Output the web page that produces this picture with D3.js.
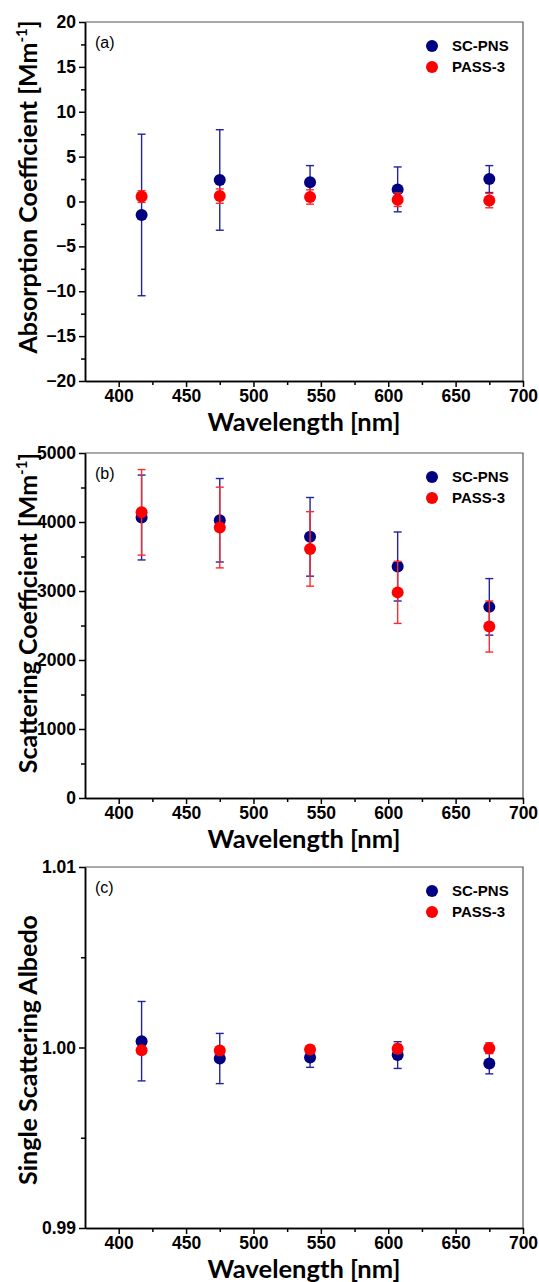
<!DOCTYPE html>
<html>
<head>
<meta charset="utf-8">
<script src="https://cdn.jsdelivr.net/npm/d3@7/dist/d3.min.js"></script>
<style>
  body { margin: 0; background: #fff; }
  .axis path, .axis line { stroke: #000; stroke-width: 1.5; }
  .axis text { font-family: "Liberation Sans", Arial, sans-serif; font-weight: 700; font-size: 17.5px; fill: #000; }
  .title { font-family: Lato, "Open Sans", sans-serif; font-weight: bold; fill: #000; }
  .legend text { font-family: "Liberation Sans", Arial, sans-serif; font-weight: bold; font-size: 15px; }
</style>
</head>
<body>
<script>

// wavelengths of the measurements [nm]
var wavelengths = [417, 475, 542, 607, 675];
var seriesNames = ["SC-PNS", "PASS-3"];

// (a) absorption coefficient [Mm-1]
var absScPns     = [-1.5, 2.4, 2.15, 1.35, 2.5];
var absScPnsErr  = [9.0, 5.6, 1.85, 2.5, 1.5];
var absPass      = [0.55, 0.6, 0.5, 0.2, 0.1];
var absPassErr   = [0.65, 0.8, 0.8, 0.75, 0.8];

// (b) scattering coefficient [Mm-1]
var scaScPns     = [4065, 4025, 3785, 3355, 2770];
var scaScPnsErr  = [615, 605, 570, 500, 410];
var scaPass      = [4140, 3920, 3610, 2980, 2485];
var scaPassErr   = [620, 585, 540, 450, 370];

// (c) single scattering albedo
var ssaScPns     = [1.00035, 0.99939, 0.99945, 0.99958, 0.99911];
var ssaScPnsErr  = [0.0022, 0.00139, 0.00055, 0.00074, 0.00057];
var ssaPass      = [0.99985, 0.99984, 0.99989, 0.99993, 0.99996];
var ssaPassErr   = [0.0001, 0.0001, 0.0001, 0.00025, 0.0003];

var xTicks      = [400, 450, 500, 550, 600, 650, 700];
var xMinorTicks = [425, 475, 525, 575, 625, 675];

var width = 539,
	height = 1282;

var colors = ["#000080", "#ff0000"];
var barColors = ["#2323a0", "#ff2a2a"];

var svg = d3.select("body").append("svg")
	.attr("width", width)
	.attr("height", height)
	.style("display", "block");

var x = d3.scaleLinear()
	.domain([375, 700])
	.range([85, 523]);

// d3 puts font attributes on the axis group; take them off so the css wins
function cleanAxis(sel) {
	sel.attr("font-size", null)
		.attr("font-family", null);
	sel.selectAll(".tick text")
		.attr("font-weight", "bold")
		.attr("fill", "#000");
}

function drawPanel(p) {
	var y = d3.scaleLinear()
		.domain(p.yDomain)
		.range([p.bottom, p.top]);

	var g = svg.append("g");

	// frame (top and right sides)
	g.append("path")
		.attr("d", "M" + x.range()[0] + "," + p.top + "H" + x.range()[1] + "V" + p.bottom)
		.attr("fill", "none")
		.attr("stroke", "#555")
		.attr("stroke-width", 1.2);

	// minor ticks first, so major axes sit on top
	g.append("g")
		.attr("class", "axis")
		.attr("transform", "translate(0," + p.bottom + ")")
		.call(d3.axisBottom(x).tickValues(xMinorTicks).tickSize(4).tickSizeOuter(0).tickFormat(""));

	g.append("g")
		.attr("class", "axis")
		.attr("transform", "translate(" + x.range()[0] + ",0)")
		.call(d3.axisLeft(y).tickValues(p.yMinor).tickSize(4).tickSizeOuter(0).tickFormat(""));

	g.append("g")
		.attr("class", "axis")
		.attr("transform", "translate(0," + p.bottom + ")")
		.call(d3.axisBottom(x).tickValues(xTicks).tickSize(6).tickSizeOuter(0).tickPadding(3))
		.call(cleanAxis);

	g.append("g")
		.attr("class", "axis")
		.attr("transform", "translate(" + x.range()[0] + ",0)")
		.call(d3.axisLeft(y).tickValues(p.yTicks).tickSize(6).tickSizeOuter(0).tickPadding(3)
			.tickFormat(p.yFormat))
		.call(cleanAxis);

	// axis titles
	g.append("text")
		.attr("class", "title")
		.attr("x", (x.range()[0] + x.range()[1]) / 2)
		.attr("y", p.bottom + 50)
		.attr("text-anchor", "middle")
		.style("font-size", "25.5px")
		.text("Wavelength [nm]");

	var yt = g.append("text")
		.attr("class", "title")
		.attr("transform", "translate(37," + p.yTitleY + ") rotate(-90)")
		.attr("text-anchor", "middle")
		.style("font-size", "25px")
		.text(p.yTitle);
	if (p.sup) {
		yt.append("tspan")
			.attr("dy", -10)
			.style("font-size", "15px")
			.text("-1");
		yt.append("tspan")
			.attr("dy", 10)
			.text("]");
	}

	// panel letter
	g.append("text")
		.attr("x", 95)
		.attr("y", p.top + 26)
		.style("font-family", "Liberation Sans, Arial, sans-serif")
		.style("font-size", "16px")
		.text(p.label);

	// data: SC-PNS first, PASS-3 drawn over it
	p.series.forEach(function(s, i) {
		var pts = wavelengths.map(function(w, j) {
			return {x: w, y: s.values[j], e: s.errors[j]};
		});

		var bars = g.append("g")
			.attr("stroke", barColors[i])
			.attr("stroke-width", 1.4)
			.selectAll("g")
			.data(pts)
			.enter().append("g");

		bars.append("line")
			.attr("x1", function(d) { return x(d.x); })
			.attr("x2", function(d) { return x(d.x); })
			.attr("y1", function(d) { return y(d.y - d.e); })
			.attr("y2", function(d) { return y(d.y + d.e); });
		bars.append("line")
			.attr("x1", function(d) { return x(d.x) - 4; })
			.attr("x2", function(d) { return x(d.x) + 4; })
			.attr("y1", function(d) { return y(d.y + d.e); })
			.attr("y2", function(d) { return y(d.y + d.e); });
		bars.append("line")
			.attr("x1", function(d) { return x(d.x) - 4; })
			.attr("x2", function(d) { return x(d.x) + 4; })
			.attr("y1", function(d) { return y(d.y - d.e); })
			.attr("y2", function(d) { return y(d.y - d.e); });

		g.append("g").selectAll("circle")
			.data(pts)
			.enter().append("circle")
			.attr("cx", function(d) { return x(d.x); })
			.attr("cy", function(d) { return y(d.y); })
			.attr("r", 6)
			.attr("fill", colors[i]);
	});

	// legend
	var lg = g.append("g")
		.attr("class", "legend")
		.selectAll("g")
		.data(seriesNames)
		.enter().append("g")
		.attr("transform", function(d, i) { return "translate(432," + (p.top + 24 + i * 21) + ")"; });
	lg.append("circle")
		.attr("r", 6)
		.attr("fill", function(d, i) { return colors[i]; });
	lg.append("text")
		.attr("x", 20)
		.attr("dy", "0.36em")
		.text(function(d) { return d; });
}

drawPanel({
	top: 22, bottom: 381,
	yDomain: [-20, 20],
	yTicks: [-20, -15, -10, -5, 0, 5, 10, 15, 20],
	yMinor: [-17.5, -12.5, -7.5, -2.5, 2.5, 7.5, 12.5, 17.5],
	yFormat: d3.format("d"),
	yTitle: "Absorption Coefficient [Mm",
	yTitleY: 187,
	sup: true,
	label: "(a)",
	series: [
		{values: absScPns, errors: absScPnsErr},
		{values: absPass, errors: absPassErr}
	]
});

drawPanel({
	top: 453, bottom: 798,
	yDomain: [0, 5000],
	yTicks: [0, 1000, 2000, 3000, 4000, 5000],
	yMinor: [500, 1500, 2500, 3500, 4500],
	yFormat: d3.format("d"),
	yTitle: "Scattering Coefficient [Mm",
	yTitleY: 613,
	sup: true,
	label: "(b)",
	series: [
		{values: scaScPns, errors: scaScPnsErr},
		{values: scaPass, errors: scaPassErr}
	]
});

drawPanel({
	top: 867, bottom: 1228,
	yDomain: [0.99, 1.01],
	yTicks: [0.99, 1.00, 1.01],
	yMinor: [0.995, 1.005],
	yFormat: d3.format(".2f"),
	yTitle: "Single Scattering Albedo",
	yTitleY: 1050,
	sup: false,
	label: "(c)",
	series: [
		{values: ssaScPns, errors: ssaScPnsErr},
		{values: ssaPass, errors: ssaPassErr}
	]
});

</script>
</body>
</html>
